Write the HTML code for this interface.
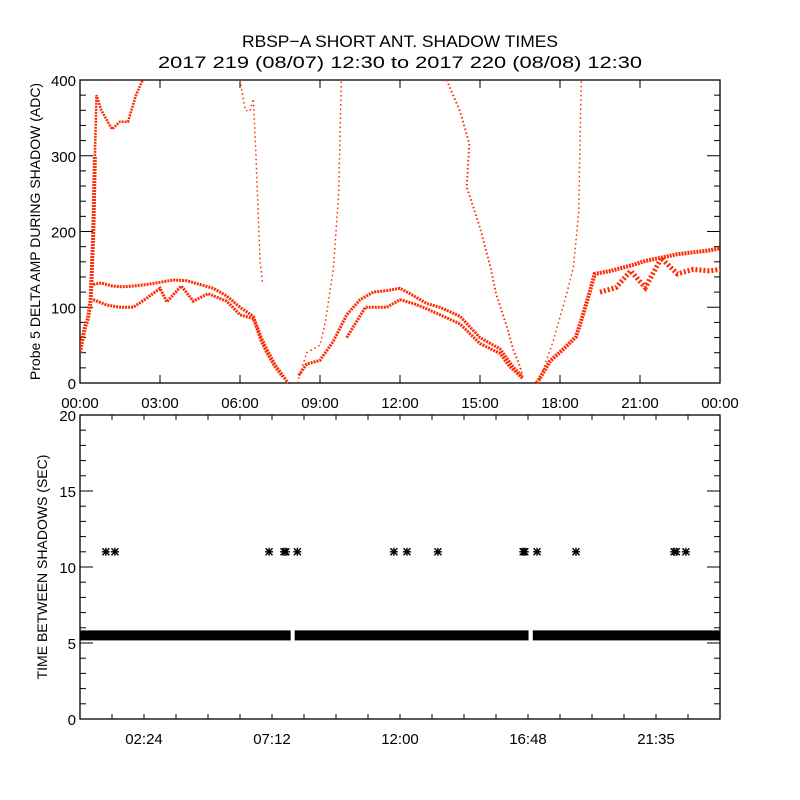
<!DOCTYPE html>
<html><head><meta charset="utf-8"><style>
html,body{margin:0;padding:0;background:#fff;}
svg{display:block;font-family:"Liberation Sans",sans-serif;}
</style></head><body>
<svg id="chart" width="800" height="800" viewBox="0 0 800 800">
<rect width="800" height="800" fill="#fff"/>
<text x="400" y="47" text-anchor="middle" font-size="17" textLength="316" lengthAdjust="spacingAndGlyphs">RBSP−A SHORT ANT. SHADOW TIMES</text>
<text x="400" y="68" text-anchor="middle" font-size="17" textLength="484" lengthAdjust="spacingAndGlyphs">2017 219 (08/07) 12:30 to 2017 220 (08/08) 12:30</text>
<g id="topPanel"></g>
<g id="botPanel"></g>
</svg>
<script>
// ---- top panel data (hours since 00:00, ADC values) ----
const traceAHours = [0.5,0.8,1.2,1.6,2.0,2.5,3.0,3.5,4.0,4.5,5.0,5.5,6.0,6.5,6.8,7.0,7.3,7.6,7.8];
const traceAVals  = [130,132,128,127,128,130,133,136,135,130,125,115,100,88,60,45,25,10,0];
const traceBHours = [0.5,1.0,1.5,2.0,2.5,3.0,3.25,3.8,4.25,4.8,5.5,6.0,6.5,6.8,7.0,7.3,7.6];
const traceBVals  = [110,103,100,100,112,125,107,128,108,118,108,90,85,55,40,22,8];
const earlyHours = [0.0,0.1,0.2,0.3,0.4,0.5,0.56];
const earlyVals  = [40,60,75,85,110,200,300];
const arc1Hours = [0.56,0.62,0.8,1.2,1.5,1.8,2.1,2.35];
const arc1Vals  = [300,380,360,335,345,345,380,400];
const fall1Hours = [6.0,6.2,6.37,6.5,6.6,6.75,6.85];
const fall1Vals  = [400,360,359,375,300,162,130];
const rise1Hours = [8.15,8.5,9.0,9.2,9.5,9.7,9.8];
const rise1Vals  = [0,40,50,80,150,250,400];
const traceCHours = [8.2,8.5,9.0,9.5,10.0,10.5,11.0,11.5,12.0,12.37,13.0,13.5,14.25,15.0,15.75,16.25,16.6];
const traceCVals  = [10,25,30,55,90,110,120,122,125,118,105,100,88,60,45,21,8];
const traceDHours = [10.0,10.7,11.5,12.0,12.5,13.0,13.5,14.25,15.0,15.75,16.1,16.6];
const traceDVals  = [60,100,100,110,105,98,90,78,52,39,22,6];
const fall2Hours = [13.75,14.25,14.6,14.5,15.0,15.4,15.6,16.0,16.25,16.5,16.6];
const fall2Vals  = [400,359,316,259,205,152,118,75,44,22,8];
const rise2Hours = [17.13,17.63,18.1,18.6,18.8,19.1,19.3,19.9,20.65,21.2,22.4,23.6,24.0];
const rise2Vals  = [0,29,44,61,83,118,144,148,155,161,170,175,178];
const low2Hours = [19.5,20.1,20.65,21.2,21.8,22.4,23.0,23.6,24.0];
const low2Vals  = [120,126,148,126,165,144,150,148,150];
const inner2Hours = [17.25,17.75,18.25,18.5,18.7,18.8];
const inner2Vals  = [5,56,118,152,225,400];
const topYTicks = [0,100,200,300,400];
const topXLabels = ["00:00","03:00","06:00","09:00","12:00","15:00","18:00","21:00","00:00"];
// ---- bottom panel data ----
const bandStarts = [0.0,8.05,16.98];
const bandEnds   = [7.9,16.82,24.0];
const bandVals   = [5.5,5.5,5.5];
const starHours = [0.97,1.31,7.09,7.65,7.72,8.15,11.77,12.26,13.42,16.62,16.68,17.14,18.6,22.28,22.36,22.72];
const starVals  = [11,11,11,11,11,11,11,11,11,11,11,11,11,11,11,11];
const botYTicks = [0,5,10,15,20];
const botXLabels = ["02:24","07:12","12:00","16:48","21:35"];

const NS="http://www.w3.org/2000/svg";
function mk(parent,tag,attrs){const e=document.createElementNS(NS,tag);for(const k in attrs)e.setAttribute(k,attrs[k]);parent.appendChild(e);return e;}
const L=80,R=720;
const xs=h=>L+h*(R-L)/24;
const T1=80,B1=383, ty=v=>B1-v*(B1-T1)/400;
const T2=415,B2=719, by=v=>B2-v*(B2-T2)/20;

const topG=document.getElementById('topPanel');
const botG=document.getElementById('botPanel');

// top frame
let f=mk(topG,'rect',{x:L,y:T1,width:R-L,height:B1-T1,fill:'none',stroke:'#000','stroke-width':1.3});


for(let v=0;v<=400;v+=20){
  const major=v%100===0, len=major?13:6;
  mk(topG,'line',{x1:L,x2:L+len,y1:ty(v),y2:ty(v),stroke:'#000'});
  mk(topG,'line',{x1:R,x2:R-len,y1:ty(v),y2:ty(v),stroke:'#000'});
}
topYTicks.forEach(v=>{
  const t=mk(topG,'text',{x:L-4,y:ty(v)+6,'text-anchor':'end','font-size':15});
  t.textContent=v;
  
  
});
topXLabels.forEach((s,i)=>{
  const x=xs(i*3);
  mk(topG,'line',{x1:x,x2:x,y1:B1,y2:B1-8,stroke:'#000'});
  mk(topG,'line',{x1:x,x2:x,y1:T1,y2:T1+8,stroke:'#000'});
  const t=mk(topG,'text',{x:x,y:B1+25,'text-anchor':'middle','font-size':15});
  t.textContent=s;
  
  
});
let yt=mk(topG,'text',{x:0,y:0,'text-anchor':'middle','font-size':14,transform:`translate(40,${(T1+B1)/2}) rotate(-90)`});
yt.textContent='Probe 5 DELTA AMP DURING SHADOW (ADC)';



const traces=[
 ['trace-a',traceAHours,traceAVals,3,'2 1'],
 ['trace-b',traceBHours,traceBVals,3,'2 1'],
 ['early-scatter',earlyHours,earlyVals,4,'2 1'],
 ['upper-arc',arc1Hours,arc1Vals,2.5,'2 1'],
 ['falling-branch-1',fall1Hours,fall1Vals,1.5,'1.5 3'],
 ['rising-branch-1',rise1Hours,rise1Vals,1.5,'1.5 3'],
 ['trace-c',traceCHours,traceCVals,3,'2 1'],
 ['trace-d',traceDHours,traceDVals,3,'2 1'],
 ['falling-branch-2',fall2Hours,fall2Vals,2,'1.5 2.5'],
 ['rising-branch-2',rise2Hours,rise2Vals,4,'2 1'],
 ['lower-branch-2',low2Hours,low2Vals,5,'2 2'],
 ['inner-rise-2',inner2Hours,inner2Vals,1.5,'1.5 3']
];
const cp=mk(topG,'clipPath',{id:'c1'});mk(cp,'rect',{x:L,y:T1,width:R-L,height:B1-T1+2});
traces.forEach(([name,hs,vs,w,da])=>{
  const pts=hs.map((h,i)=>xs(h).toFixed(1)+','+ty(vs[i]).toFixed(1)).join(' ');
  const p=mk(topG,'polyline',{points:pts,fill:'none',stroke:'#ff2a00','stroke-width':w,'stroke-dasharray':da,'clip-path':'url(#c1)'});
  
  
});

// bottom frame
f=mk(botG,'rect',{x:L,y:T2,width:R-L,height:B2-T2,fill:'none',stroke:'#000','stroke-width':1.3});


for(let v=0;v<=20;v+=1){
  const major=v%5===0, len=major?13:6;
  mk(botG,'line',{x1:L,x2:L+len,y1:by(v),y2:by(v),stroke:'#000'});
  mk(botG,'line',{x1:R,x2:R-len,y1:by(v),y2:by(v),stroke:'#000'});
}
botYTicks.forEach(v=>{
  const t=mk(botG,'text',{x:L-4,y:by(v)+6,'text-anchor':'end','font-size':15});
  t.textContent=v;
  
  
});
for(let i=1;i<20;i++){
  const x=xs(i*1.2);
  mk(botG,'line',{x1:x,x2:x,y1:B2,y2:B2-5,stroke:'#000'});
  mk(botG,'line',{x1:x,x2:x,y1:T2,y2:T2+5,stroke:'#000'});
}
botXLabels.forEach((s,i)=>{
  const t=mk(botG,'text',{x:xs(2.4+i*4.8),y:B2+25,'text-anchor':'middle','font-size':15});
  t.textContent=s;
  
  
});
yt=mk(botG,'text',{x:0,y:0,'text-anchor':'middle','font-size':14,transform:`translate(47,${(T2+B2)/2}) rotate(-90)`});
yt.textContent='TIME BETWEEN SHADOWS (SEC)';



bandStarts.forEach((s,i)=>{
  const r=mk(botG,'rect',{x:xs(s),y:by(bandVals[i])-5,width:xs(bandEnds[i])-xs(s),height:10,fill:'#000'});
  
  
});
starHours.forEach((h,i)=>{
  const cx=xs(h), cy=by(starVals[i]);
  const g=mk(botG,'path',{d:`M${cx-4},${cy}H${cx+4}M${cx},${cy-4}V${cy+4}M${cx-3.5},${cy-3.5}L${cx+3.5},${cy+3.5}M${cx-3.5},${cy+3.5}L${cx+3.5},${cy-3.5}`,stroke:'#000','stroke-width':1.4,fill:'none'});
  
  
});
</script>
</body></html>
